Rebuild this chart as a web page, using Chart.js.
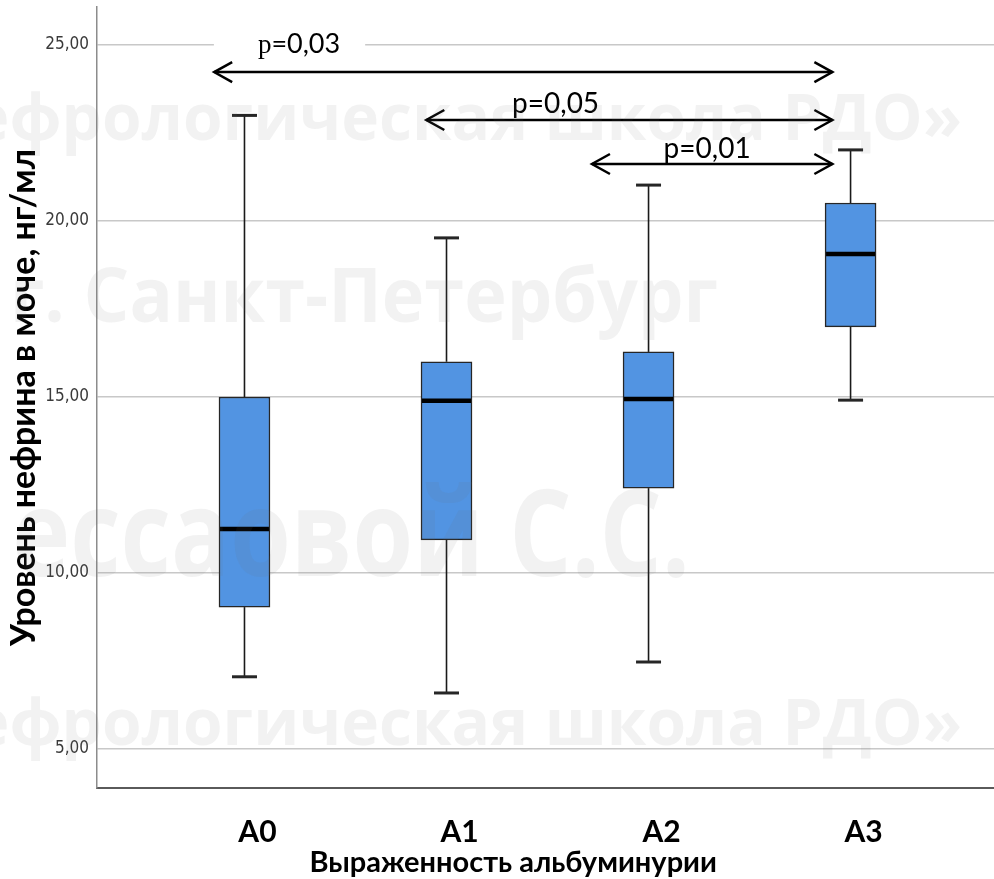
<!DOCTYPE html>
<html>
<head>
<meta charset="utf-8">
<script src="https://cdn.jsdelivr.net/npm/chart.js@4.4.1/dist/chart.umd.min.js"></script>
<style>
  html, body { margin: 0; padding: 0; background: #fff; }
  #wrap { width: 994px; height: 879px; position: relative; }
</style>
</head>
<body>
<div id="wrap"><canvas id="chart"></canvas></div>
<script>
const categories = ['A0', 'A1', 'A2', 'A3']
const whiskerLow = [7.05, 6.59, 7.47, 14.91]
const q1 = [9.03, 10.94, 12.41, 16.99]
const median = [11.25, 14.89, 14.94, 19.06]
const q3 = [15.0, 16.0, 16.28, 20.51]
const whiskerHigh = [23.0, 19.52, 21.02, 22.02]
const yTicks = [5, 10, 15, 20, 25]

// pairwise comparisons, arrow ends in category units, y in ng/ml
const comparisons = [
  { label: 'p=0,03', from: -0.15, to: 2.91, y: 24.23, textX: 0.27, textY: 24.77, serif: true },
  { label: 'p=0,05', from: 0.90, to: 2.91, y: 22.87, textX: 1.54, textY: 23.07 },
  { label: 'p=0,01', from: 1.72, to: 2.91, y: 21.62, textX: 2.29, textY: 21.79 }
]

const xTitle = 'Выраженность альбуминурии'

const watermark = [
  { text: '«Нефрологическая школа РДО»', size: 64, stretch: 1, right: 962, base: 140 },
  { text: 'г. Санкт-Петербург', size: 72, stretch: 1.05, right: 718, base: 322 },
  { text: 'ессаовой С.С.', size: 98, stretch: 1.22, right: 690, base: 576 },
  { text: '«Нефрологическая школа РДО»', size: 64, stretch: 1, right: 962, base: 745 }
]

function line(ctx, x1, y1, x2, y2) {
  ctx.beginPath()
  ctx.moveTo(x1, y1)
  ctx.lineTo(x2, y2)
  ctx.stroke()
}

const boxWhiskers = {
  id: 'boxWhiskers',
  afterDatasetsDraw(chart) {
    const { ctx, scales: { x, y } } = chart
    const meta = chart.getDatasetMeta(0)
    ctx.save()
    categories.forEach((c, i) => {
      const cx = x.getPixelForValue(i)
      const half = meta.data[i].width / 2
      ctx.strokeStyle = '#1a1a1a'
      ctx.lineWidth = 1.6
      line(ctx, cx, y.getPixelForValue(whiskerHigh[i]), cx, y.getPixelForValue(q3[i]))
      line(ctx, cx, y.getPixelForValue(q1[i]), cx, y.getPixelForValue(whiskerLow[i]))
      ctx.lineWidth = 3
      ctx.strokeStyle = '#262626'
      line(ctx, cx - 12.5, y.getPixelForValue(whiskerHigh[i]), cx + 12.5, y.getPixelForValue(whiskerHigh[i]))
      line(ctx, cx - 12.5, y.getPixelForValue(whiskerLow[i]), cx + 12.5, y.getPixelForValue(whiskerLow[i]))
      ctx.lineWidth = 4.5
      ctx.strokeStyle = '#000'
      const ym = y.getPixelForValue(median[i])
      line(ctx, cx - half + 1, ym, cx + half - 1, ym)
    })
    ctx.restore()
  }
}

function drawLabel(ctx, cmp, px, py) {
  if (cmp.serif) {
    // "p" set in a serif face, the number in sans
    ctx.font = '27px "Liberation Serif"'
    const wp = ctx.measureText('p').width
    ctx.font = '27px Lato'
    const wn = ctx.measureText(cmp.label.slice(1)).width
    const left = px - (wp + wn) / 2
    ctx.fillStyle = '#fff'
    ctx.fillRect(left - 44, py - 24, wp + wn + 69, 30)
    ctx.fillStyle = '#000'
    ctx.font = '27px "Liberation Serif"'
    ctx.fillText('p', left, py)
    ctx.font = '27px Lato'
    ctx.fillText(cmp.label.slice(1), left + wp, py)
  } else {
    ctx.font = '28px Lato'
    ctx.fillStyle = '#000'
    ctx.textAlign = 'center'
    ctx.fillText(cmp.label, px, py)
    ctx.textAlign = 'left'
  }
}

const pValues = {
  id: 'pValues',
  afterDatasetsDraw(chart) {
    const { ctx, scales: { x, y } } = chart
    ctx.save()
    ctx.textBaseline = 'alphabetic'
    comparisons.forEach(cmp => {
      drawLabel(ctx, cmp, x.getPixelForValue(cmp.textX), y.getPixelForValue(cmp.textY))
      const x1 = x.getPixelForValue(cmp.from)
      const x2 = x.getPixelForValue(cmp.to)
      const ya = y.getPixelForValue(cmp.y)
      ctx.strokeStyle = '#000'
      ctx.lineWidth = 2.5
      line(ctx, x1, ya, x2, ya)
      ctx.beginPath()
      ctx.moveTo(x1 + 18, ya - 10)
      ctx.lineTo(x1, ya)
      ctx.lineTo(x1 + 18, ya + 10)
      ctx.moveTo(x2 - 18, ya - 10)
      ctx.lineTo(x2, ya)
      ctx.lineTo(x2 - 18, ya + 10)
      ctx.stroke()
    })
    ctx.restore()
  }
}

// x-axis title sits left of the plot centre in the original, so draw it here
const xTitlePlugin = {
  id: 'xTitle',
  afterDraw(chart) {
    const { ctx, scales: { x } } = chart
    ctx.save()
    ctx.font = 'bold 29px Lato'
    ctx.fillStyle = '#000'
    ctx.textAlign = 'center'
    ctx.textBaseline = 'alphabetic'
    ctx.fillText(xTitle, x.getPixelForValue(1.33), x.bottom - 7)
    ctx.restore()
  }
}

const watermarkPlugin = {
  id: 'watermark',
  afterDraw(chart) {
    const ctx = chart.ctx
    ctx.save()
    ctx.fillStyle = 'rgba(110, 110, 110, 0.09)'
    ctx.textAlign = 'right'
    ctx.textBaseline = 'alphabetic'
    watermark.forEach(w => {
      ctx.save()
      ctx.translate(w.right, w.base)
      ctx.scale(1, w.stretch)
      ctx.font = 'bold ' + w.size + 'px "Open Sans"'
      ctx.fillText(w.text, 0, 0)
      ctx.restore()
    })
    ctx.restore()
  }
}

new Chart(document.getElementById('chart'), {
  type: 'bar',
  data: {
    datasets: [{
      data: categories.map((c, i) => ({ x: i, y: [q1[i], q3[i]] })),
      backgroundColor: '#5294e2',
      borderColor: '#262626',
      borderWidth: 1.5,
      borderSkipped: false,
      barThickness: 51
    }]
  },
  options: {
    responsive: true,
    maintainAspectRatio: false,
    animation: false,
    layout: { padding: { top: 7, right: 0, left: 0, bottom: 0 } },
    plugins: {
      legend: { display: false },
      tooltip: { enabled: false }
    },
    scales: {
      x: {
        type: 'linear',
        offset: false,
        min: -0.73,
        max: 3.71,
        afterBuildTicks: scale => { scale.ticks = categories.map((c, i) => ({ value: i })) },
        afterFit: scale => {
          scale.height = 91
          scale.paddingLeft = 0
          scale.paddingRight = 0
        },
        grid: { display: false },
        border: { display: true, color: '#5a5a5a', width: 2 },
        ticks: {
          callback: v => categories[v],
          labelOffset: 13,
          padding: 18,
          maxRotation: 0,
          color: '#000',
          font: { family: 'Lato', weight: 'bold', size: 30 }
        }
      },
      y: {
        min: 3.89,
        max: 26.08,
        afterBuildTicks: scale => { scale.ticks = yTicks.map(v => ({ value: v })) },
        afterFit: scale => {
          scale.width = 97
          scale.paddingTop = 0
          scale.paddingBottom = 0
        },
        grid: { color: '#c8c8c8', lineWidth: 1.5, drawTicks: false },
        border: { display: true, color: '#8c8c8c', width: 1.5 },
        ticks: {
          callback: v => v.toFixed(2).replace('.', ','),
          padding: 8,
          color: '#3a3a3a',
          font: { family: '"Liberation Sans Narrow", "DejaVu Sans Condensed", "Arial Narrow", sans-serif', size: 17 }
        },
        title: {
          display: true,
          text: 'Уровень нефрина в моче, нг/мл',
          color: '#000',
          font: { family: 'Lato', weight: 'bold', size: 34 },
          padding: { top: 4, bottom: 0 }
        }
      }
    }
  },
  plugins: [boxWhiskers, pValues, xTitlePlugin, watermarkPlugin]
})
</script>
</body>
</html>
